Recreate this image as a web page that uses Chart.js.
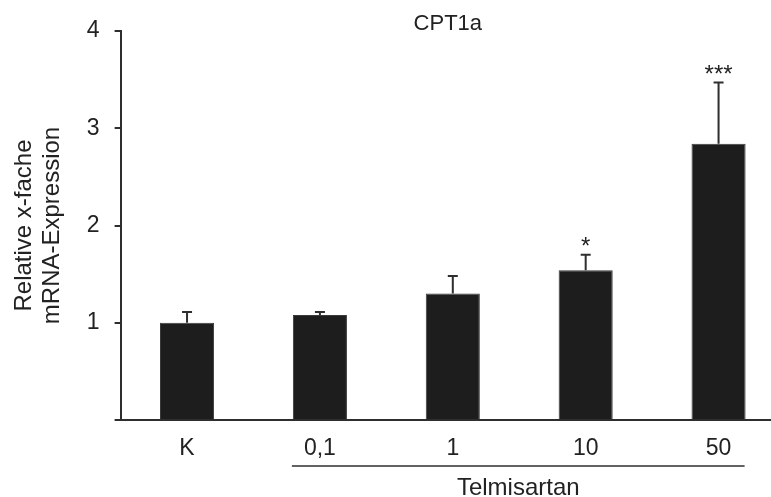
<!DOCTYPE html>
<html><head><meta charset="utf-8">
<script src="https://cdn.jsdelivr.net/npm/chart.js@4"></script>
<style>
html,body{margin:0;padding:0;background:#fff;overflow:hidden;}
#wrap{position:relative;width:785px;height:497px;}
</style></head><body>
<div id="wrap"><canvas id="c"></canvas></div>
<script>
const chartTitle = 'CPT1a';
const yAxisTitle = ['Relative x-fache', 'mRNA-Expression'];
const categories = ['K', '0,1', '1', '10', '50'];
const meanValues = [1.00, 1.08, 1.30, 1.54, 2.84];
const errorValues = [0.11, 0.03, 0.18, 0.16, 0.63];
const significance = ['', '', '', '*', '***'];
const groupLabel = 'Telmisartan';
const groupFirst = 1;
const groupLast = 4;
const yTickValues = [0, 1, 2, 3, 4];

const FONT = '"Liberation Sans", Arial, sans-serif';
const INK = '#222222';
const AXIS = '#2e2e2e';

const annotations = {
  id: 'annotations',
  afterDatasetsDraw(chart) {
    const ctx = chart.ctx;
    const ys = chart.scales.y;
    const meta = chart.getDatasetMeta(0);
    const area = chart.chartArea;
    ctx.save();
    ctx.strokeStyle = AXIS;
    ctx.lineWidth = 2;
    meta.data.forEach((bar, i) => {
      const base = ys.getPixelForValue(meanValues[i]);
      const top = ys.getPixelForValue(meanValues[i] + errorValues[i]);
      ctx.beginPath();
      ctx.moveTo(bar.x, base);
      ctx.lineTo(bar.x, top);
      ctx.moveTo(bar.x - 5, top);
      ctx.lineTo(bar.x + 5, top);
      ctx.stroke();
      if (significance[i]) {
        ctx.fillStyle = INK;
        ctx.font = '24px ' + FONT;
        ctx.textAlign = 'center';
        ctx.textBaseline = 'alphabetic';
        ctx.fillText(significance[i], bar.x, top - 1);
      }
    });
    // title
    ctx.fillStyle = INK;
    ctx.font = '22px ' + FONT;
    ctx.textAlign = 'center';
    ctx.textBaseline = 'alphabetic';
    ctx.fillText(chartTitle, (area.left + area.right) / 2 - 5, 30);
    // group bracket
    const b1 = meta.data[groupFirst], b2 = meta.data[groupLast];
    const x1 = b1.x - b1.width / 2 - 1;
    const x2 = b2.x + b2.width / 2 - 1;
    ctx.lineWidth = 1.5;
    ctx.beginPath();
    ctx.moveTo(x1, 466);
    ctx.lineTo(x2, 466);
    ctx.stroke();
    ctx.font = '24px ' + FONT;
    ctx.fillText(groupLabel, (x1 + x2) / 2, 495);
    ctx.restore();
  }
};

new Chart(document.getElementById('c'), {
  type: 'bar',
  data: {
    labels: categories,
    datasets: [{
      data: meanValues,
      backgroundColor: '#1d1d1d',
      borderColor: '#3a3a3a',
      borderWidth: 1,
      barPercentage: 0.407,
      categoryPercentage: 1.0
    }]
  },
  options: {
    responsive: true,
    maintainAspectRatio: false,
    animation: false,
    layout: { padding: { top: 31, right: 0, left: 0, bottom: 0 } },
    plugins: { legend: { display: false }, tooltip: { enabled: false }, title: { display: false } },
    scales: {
      x: {
        offset: true,
        grid: { display: false, drawTicks: false },
        border: { display: true, color: AXIS, width: 2 },
        ticks: { color: INK, font: { family: FONT, size: 23 }, padding: 15, maxRotation: 0 },
        afterFit(scale) { scale.height = 77; }
      },
      y: {
        min: 0, max: 4,
        afterBuildTicks(scale) { scale.ticks = yTickValues.map(v => ({ value: v })); },
        grid: { display: true, drawOnChartArea: false, drawTicks: true, tickLength: 6, color: AXIS, lineWidth: 2 },
        border: { display: true, color: AXIS, width: 2 },
        ticks: {
          color: INK, font: { family: FONT, size: 23 }, padding: 15,
          callback: (v) => (v === 0 ? '' : String(v))
        },
        title: {
          display: true, text: yAxisTitle, color: INK,
          font: { family: FONT, size: 24, lineHeight: 1.17 },
          padding: { top: 10, bottom: 0 }
        },
        afterFit(scale) { scale.width = 120.6; }
      }
    }
  },
  plugins: [annotations]
});
</script>
</body></html>
